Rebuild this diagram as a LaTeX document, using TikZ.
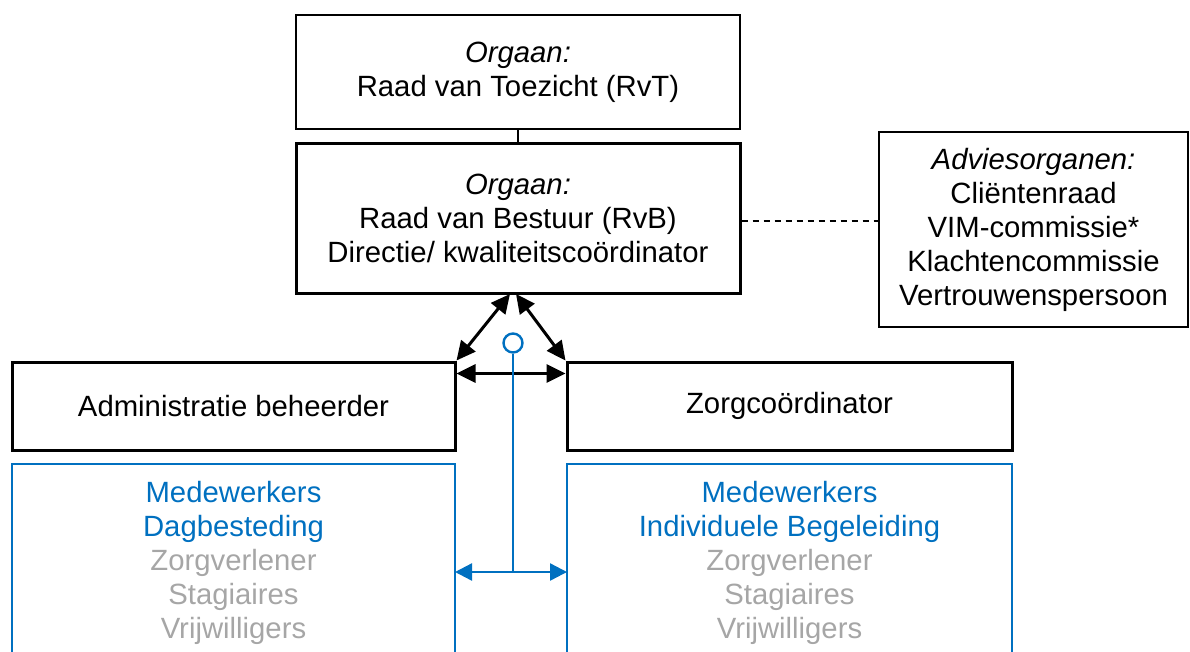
\documentclass[tikz,border=0pt]{standalone}
\usepackage{fontspec}
\setmainfont{Liberation Sans}
\usetikzlibrary{arrows.meta}
\definecolor{myblue}{HTML}{0070C0}
\definecolor{mygray}{HTML}{A6A6A6}
\begin{document}
\begin{tikzpicture}[x=1pt,y=-1pt,
  every node/.style={font=\fontsize{29.3}{34}\selectfont, align=center, inner sep=0pt},
  thinbox/.style={draw=black, line width=1.6pt, rectangle},
  thickbox/.style={draw=black, line width=3pt, rectangle},
  bluebox/.style={draw=myblue, line width=2.4pt},
  blk/.style={line width=3pt, {Triangle[length=19pt,width=18pt]}-{Triangle[length=19pt,width=18pt]}},
  blu/.style={myblue, line width=2.4pt, {Triangle[length=17pt,width=17pt]}-{Triangle[length=17pt,width=17pt]}}
]
\useasboundingbox (0,0) rectangle (1190,651);
% top boxes
\node[thinbox, minimum width=444pt, minimum height=114pt] (rvt) at (518,72)
  {\textit{Orgaan:}\\Raad van Toezicht (RvT)};
\node[thickbox, minimum width=444pt, minimum height=150pt] (rvb) at (518,218)
  {\textit{Orgaan:}\\Raad van Bestuur (RvB)\\Directie/ kwaliteitscoördinator};
\node[thinbox, minimum width=309pt, minimum height=195pt] (adv) at (1033.5,229.5)
  {\textit{Adviesorganen:}\\Cliëntenraad\\VIM-commissie*\\Klachtencommissie\\Vertrouwenspersoon};
\draw[line width=1.6pt] (rvt.south) -- (rvb.north);
\draw[line width=1.6pt, dash pattern=on 6pt off 5pt] (rvb.east |- 0,221) -- (adv.west |- 0,221);
% middle boxes
\node[thickbox, minimum width=443pt, minimum height=88pt] (adm) at (233.5,406) {Administratie beheerder};
\node[thickbox, minimum width=445pt, minimum height=88pt] (zorg) at (789.5,406) {Zorgcoördinator};
% blue boxes
\draw[bluebox] (12,660) -- (12,464) -- (455,464) -- (455,660);
\draw[bluebox] (567,660) -- (567,464) -- (1012,464) -- (1012,660);
\node[text=myblue] (lt) at (233.5,563) {Medewerkers\\Dagbesteding\\\textcolor{mygray}{Zorgverlener}\\\textcolor{mygray}{Stagiaires}\\\textcolor{mygray}{Vrijwilligers}};
\node[text=myblue] (rt) at (789.5,563) {Medewerkers\\Individuele Begeleiding\\\textcolor{mygray}{Zorgverlener}\\\textcolor{mygray}{Stagiaires}\\\textcolor{mygray}{Vrijwilligers}};
% black arrows
\coordinate (rbl) at (510,294);
\coordinate (rbr) at (516,294);
\draw[blk] (rbl) -- (adm.north east);
\draw[blk] (rbr) -- (zorg.north west);
\draw[blk] ([yshift=-13pt]adm.north east) -- ([yshift=-13pt]zorg.north west);
% blue connector
\node[draw=myblue, line width=2.4pt, circle, minimum size=19pt] (circ) at (513,343) {};
\coordinate (bj) at (513,572);
\draw[myblue, line width=2.4pt] (circ.south) -- (bj);
\coordinate (bl) at (455,572);
\coordinate (br) at (567,572);
\draw[blu] (bl) -- (br);
\end{tikzpicture}
\end{document}
